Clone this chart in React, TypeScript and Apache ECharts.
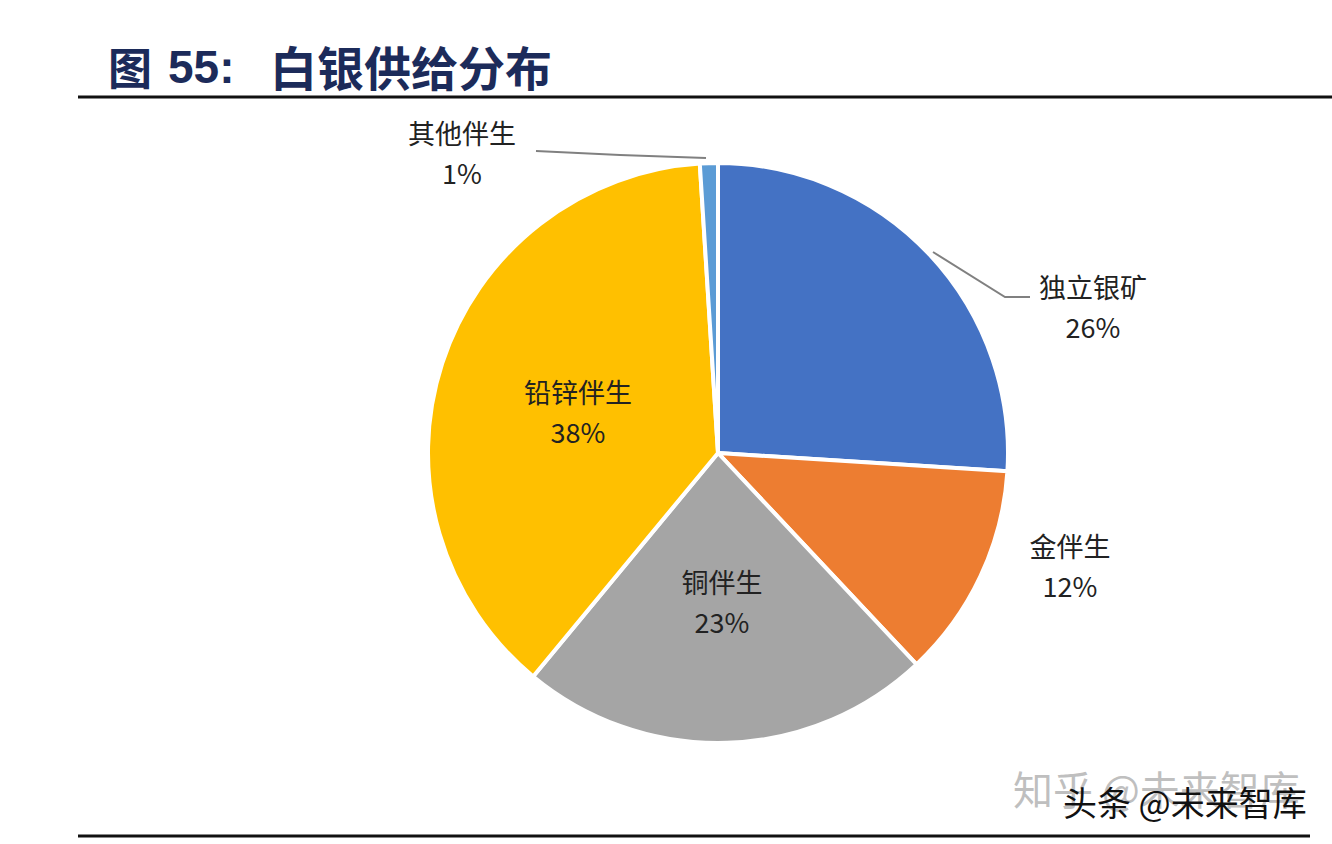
import React, { useEffect, useRef } from "react";
import * as echarts from "echarts";

const categories = ["独立银矿", "金伴生", "铜伴生", "铅锌伴生", "其他伴生"];
const shares = [26, 12, 23, 38, 1];
const colors = ["#4472C4", "#ED7D31", "#A5A5A5", "#FFC000", "#5B9BD5"];

// label placements (layout only)
const labelPos: Record<string, { x: number; y: number; line?: number[][] }> = {
  "独立银矿": { x: 1093, y: 306, line: [[933, 252], [1005, 297], [1030, 297]] },
  "金伴生": { x: 1070, y: 565 },
  "铜伴生": { x: 722, y: 601 },
  "铅锌伴生": { x: 578, y: 411 },
  "其他伴生": { x: 462, y: 152, line: [[706, 158], [620, 155], [536, 151]] },
};

export default function App() {
  const ref = useRef<HTMLDivElement>(null);
  useEffect(() => {
    document.body.style.margin = "0";
    const chart = echarts.init(ref.current!, null, { renderer: "svg" });
    const cjk = '"Noto Sans CJK SC", "Noto Sans", sans-serif';
    chart.setOption({
      animation: false,
      backgroundColor: "#ffffff",
      graphic: [
        { type: "text", left: 108, top: 44, style: { text: "图", font: `bold 44px ${cjk}`, fill: "#1c2b5a" } },
        { type: "text", left: 168, top: 44, style: { text: "55:", font: `bold 46px "Liberation Sans", Arial, sans-serif`, fill: "#1c2b5a" } },
        { type: "text", left: 270, top: 42, style: { text: "白银供给分布", font: `bold 47px ${cjk}`, fill: "#1c2b5a" } },
        { type: "line", shape: { x1: 78, y1: 97, x2: 1332, y2: 97 }, style: { stroke: "#111", lineWidth: 3 } },
        { type: "line", shape: { x1: 78, y1: 836, x2: 1310, y2: 836 }, style: { stroke: "#111", lineWidth: 3 } },
        { type: "text", left: 1013, top: 768, style: { text: "知乎 @未来智库", font: `40px ${cjk}`, fill: "rgba(170,170,170,0.75)" } },
        {
          type: "text", left: 1063, top: 784,
          style: {
            text: "头条 @未来智库", font: `34px ${cjk}`, fill: "#111",
            textShadowColor: "#ffffff", textShadowBlur: 0, textShadowOffsetX: -3, textShadowOffsetY: -2,
          },
        },
      ],
      series: [
        {
          type: "pie",
          center: [718, 453],
          radius: [0, 290],
          startAngle: 90,
          clockwise: true,
          avoidLabelOverlap: false,
          itemStyle: { borderColor: "#ffffff", borderWidth: 4 },
          label: {
            show: true,
            formatter: (p: any) => `${p.name}\n${p.value}%`,
            fontFamily: cjk,
            fontSize: 27,
            lineHeight: 40,
            color: "#222",
            align: "center",
          },
          labelLine: { show: false, lineStyle: { color: "#808080", width: 2 } },
          labelLayout: (params: any) => {
            const name = categories[params.dataIndex];
            const pos = labelPos[name];
            const res: any = { x: pos.x, y: pos.y, align: "center", verticalAlign: "middle" };
            if (pos.line) res.labelLinePoints = pos.line;
            return res;
          },
          data: categories.map((c, i) => ({
            name: c,
            value: shares[i],
            itemStyle: { color: colors[i] },
            labelLine: { show: !!labelPos[c].line, smooth: false },
          })),
        },
      ],
    });
    return () => chart.dispose();
  }, []);
  return <div ref={ref} style={{ position: "absolute", left: 0, top: 0, width: 1332, height: 844 }} />;
}
